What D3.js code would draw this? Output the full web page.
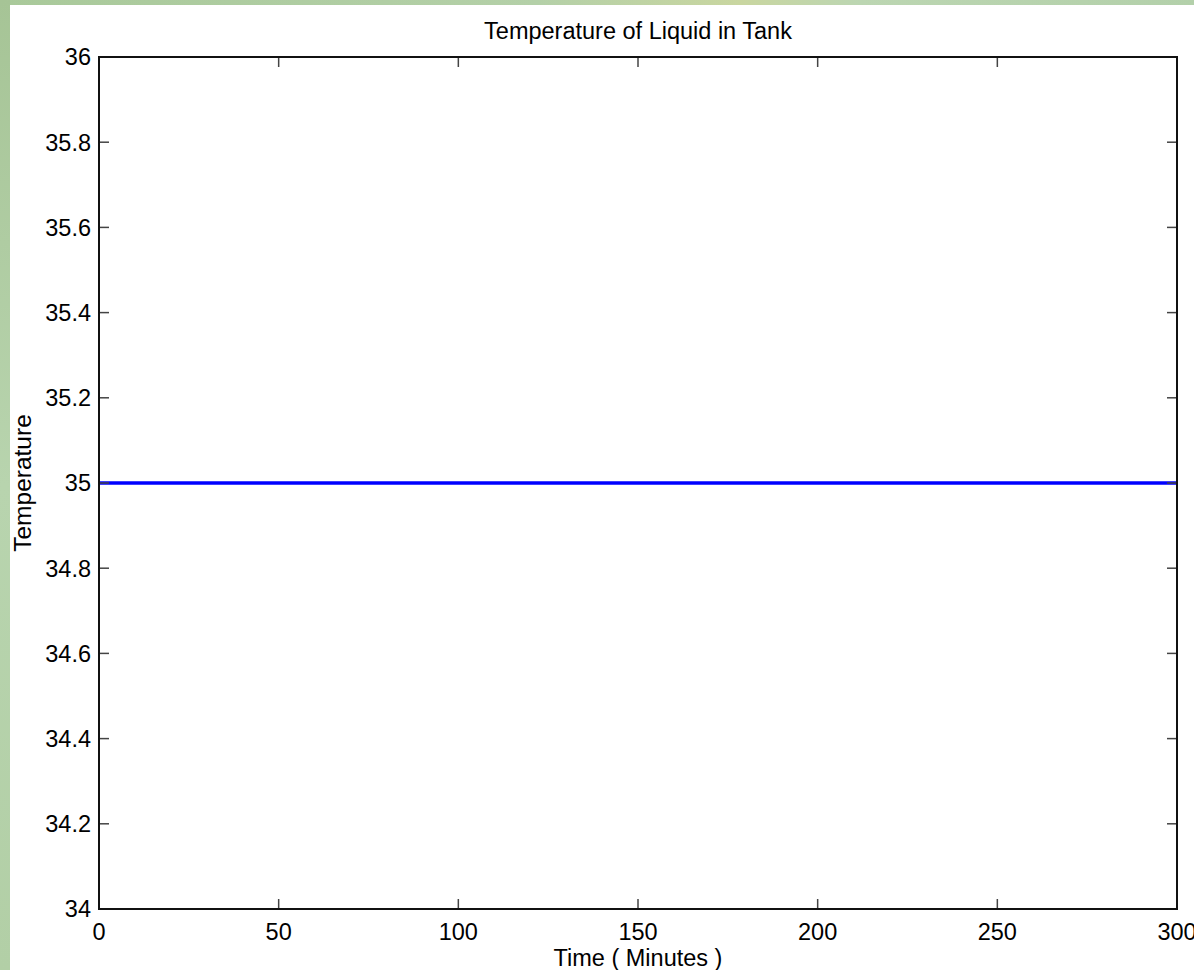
<!DOCTYPE html>
<html>
<head>
<meta charset="utf-8">
<script src="https://cdn.jsdelivr.net/npm/d3@7"></script>
<style>
  html, body { margin: 0; padding: 0; overflow: hidden; }
  svg { display: block; }
  text { font-family: "Liberation Sans", Arial, Helvetica, sans-serif; fill: #000; }
</style>
</head>
<body>
<svg id="chart" width="1194" height="970"></svg>
<script>
// data
const timeMinutes = [0, 300];
const temperature = [35, 35];
const xTicks = [0, 50, 100, 150, 200, 250, 300];
const yTicks = [34, 34.2, 34.4, 34.6, 34.8, 35, 35.2, 35.4, 35.6, 35.8, 36];

const W = 1194, H = 970;
const margin = {top: 57, right: 17, bottom: 61, left: 99};

const svg = d3.select('#chart');

// textured green backdrop (only a thin strip shows at top and left)
const defs = svg.append('defs');
const bg = defs.append('linearGradient').attr('id', 'bg')
  .attr('x1', '0').attr('y1', '0').attr('x2', '1').attr('y2', '0');
bg.append('stop').attr('offset', '0').attr('stop-color', '#a9c99a');
bg.append('stop').attr('offset', '0.45').attr('stop-color', '#b4d0a8');
bg.append('stop').attr('offset', '0.62').attr('stop-color', '#c9d6a0');
bg.append('stop').attr('offset', '0.72').attr('stop-color', '#bcd6b2');
bg.append('stop').attr('offset', '1').attr('stop-color', '#b3d0aa');
svg.append('rect').attr('width', W).attr('height', H).attr('fill', 'url(#bg)');
const lg = defs.append('linearGradient').attr('id', 'lg')
  .attr('x1', '0').attr('y1', '0').attr('x2', '0').attr('y2', '1');
lg.append('stop').attr('offset', '0').attr('stop-color', '#a6c496');
lg.append('stop').attr('offset', '0.5').attr('stop-color', '#b8d4ae');
lg.append('stop').attr('offset', '1').attr('stop-color', '#b2cfa6');
svg.append('rect').attr('width', 10).attr('height', H).attr('fill', 'url(#lg)');

// white figure area
svg.append('rect').attr('x', 10).attr('y', 5).attr('width', W - 10).attr('height', H - 5).attr('fill', '#fff');

const x = d3.scaleLinear().domain([0, 300]).range([margin.left, W - margin.right]);
const y = d3.scaleLinear().domain([34, 36]).range([H - margin.bottom, margin.top]);

const x0 = x.range()[0], x1 = x.range()[1];
const y0 = y.range()[0], y1 = y.range()[1];
const tickLen = 10;

// line first so the axes box sits on top
const pts = timeMinutes.map((t, i) => [t, temperature[i]]);
svg.append('path')
  .datum(pts)
  .attr('fill', 'none')
  .attr('stroke', '#0000ff')
  .attr('stroke-width', 3.5)
  .attr('d', d3.line().x(d => x(d[0])).y(d => y(d[1])));

// inward ticks, mirrored on all four sides
const tg = svg.append('g').attr('stroke', '#444').attr('stroke-width', 1.5);
xTicks.forEach(v => {
  tg.append('line').attr('x1', x(v)).attr('x2', x(v)).attr('y1', y0).attr('y2', y0 - tickLen);
  tg.append('line').attr('x1', x(v)).attr('x2', x(v)).attr('y1', y1).attr('y2', y1 + tickLen);
});
yTicks.forEach(v => {
  tg.append('line').attr('x1', x0).attr('x2', x0 + tickLen).attr('y1', y(v)).attr('y2', y(v));
  tg.append('line').attr('x1', x1).attr('x2', x1 - tickLen).attr('y1', y(v)).attr('y2', y(v));
});

// axes box
svg.append('rect')
  .attr('x', x0).attr('y', y1)
  .attr('width', x1 - x0).attr('height', y0 - y1)
  .attr('fill', 'none').attr('stroke', '#111').attr('stroke-width', 2);

// tick labels
const fs = 23.5;
svg.append('g').selectAll('text').data(xTicks).join('text')
  .attr('x', d => x(d)).attr('y', y0 + 31)
  .attr('text-anchor', 'middle').attr('font-size', fs)
  .text(d => d);
svg.append('g').selectAll('text').data(yTicks).join('text')
  .attr('x', x0 - 8).attr('y', d => y(d)).attr('dy', '0.36em')
  .attr('text-anchor', 'end').attr('font-size', fs)
  .text(d => d3.format('~g')(d));

// title and axis labels
svg.append('text').attr('x', (x0 + x1) / 2).attr('y', 39)
  .attr('text-anchor', 'middle').attr('font-size', fs)
  .text('Temperature of Liquid in Tank');
svg.append('text').attr('x', (x0 + x1) / 2).attr('y', 966)
  .attr('text-anchor', 'middle').attr('font-size', fs)
  .text('Time ( Minutes )');
svg.append('text')
  .attr('transform', 'translate(31,' + ((y0 + y1) / 2) + ') rotate(-90)')
  .attr('text-anchor', 'middle').attr('font-size', 24.5)
  .text('Temperature');
</script>
</body>
</html>
